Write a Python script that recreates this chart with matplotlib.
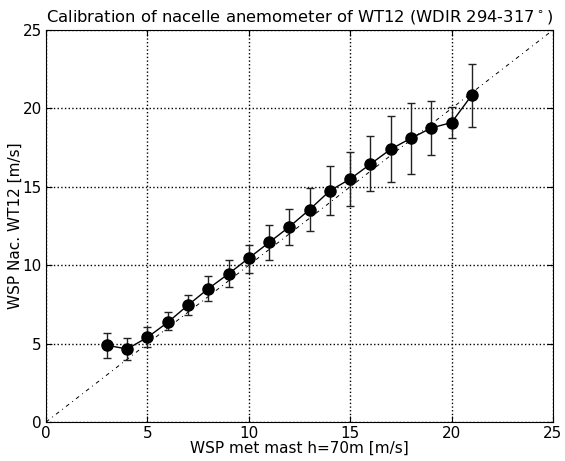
import numpy as np
import matplotlib
matplotlib.use('Agg')
import matplotlib.pyplot as plt

# wind speed bins [m/s]
wsp_mast = [3, 4, 5, 6, 7, 8, 9, 10, 11, 12, 13, 14, 15, 16, 17, 18, 19, 20, 21]
wsp_nac = [4.9, 4.65, 5.4, 6.35, 7.45, 8.5, 9.45, 10.45, 11.45, 12.45, 13.55,
           14.75, 15.5, 16.45, 17.4, 18.1, 18.75, 19.1, 20.85]
err_lo = [0.8, 0.7, 0.6, 0.5, 0.65, 0.8, 0.85, 0.95, 1.15, 1.15, 1.35,
          1.55, 1.7, 1.7, 2.1, 2.3, 1.75, 1.0, 2.05]
err_hi = [0.8, 0.7, 0.65, 0.65, 0.65, 0.8, 0.85, 0.85, 1.1, 1.15, 1.35,
          1.55, 1.7, 1.8, 2.1, 2.25, 1.75, 1.0, 2.0]

fig = plt.figure(figsize=(5.65, 4.61), dpi=100)
ax = fig.add_axes([46/565, 1-422/461, (553-46)/565, (422-30)/461])

# 1:1 line
ax.plot([0, 25], [0, 25], color='k', lw=0.7, dashes=(4, 4, 1, 4))
ax.errorbar(wsp_mast, wsp_nac, yerr=[err_lo, err_hi], fmt='ko-', ms=8,
            lw=1, ecolor='#222222', elinewidth=1, capsize=3, capthick=1)

ax.set_xlim(0, 25)
ax.set_ylim(0, 25)
ax.set_xticks([0, 5, 10, 15, 20, 25])
ax.set_yticks([0, 5, 10, 15, 20, 25])
ax.grid(True, color='k', linestyle=':', lw=1)
ax.tick_params(direction='in', top=True, right=True, length=4, labelsize=11, pad=3)
ax.set_xlabel('WSP met mast h=70m [m/s]', fontsize=11, labelpad=0)
ax.set_ylabel('WSP Nac. WT12 [m/s]', fontsize=11, labelpad=0)
ax.set_title('Calibration of nacelle anemometer of WT12 (WDIR 294-317$^\\circ$)', fontsize=11.8)

fig.savefig('out.png', dpi=100)
